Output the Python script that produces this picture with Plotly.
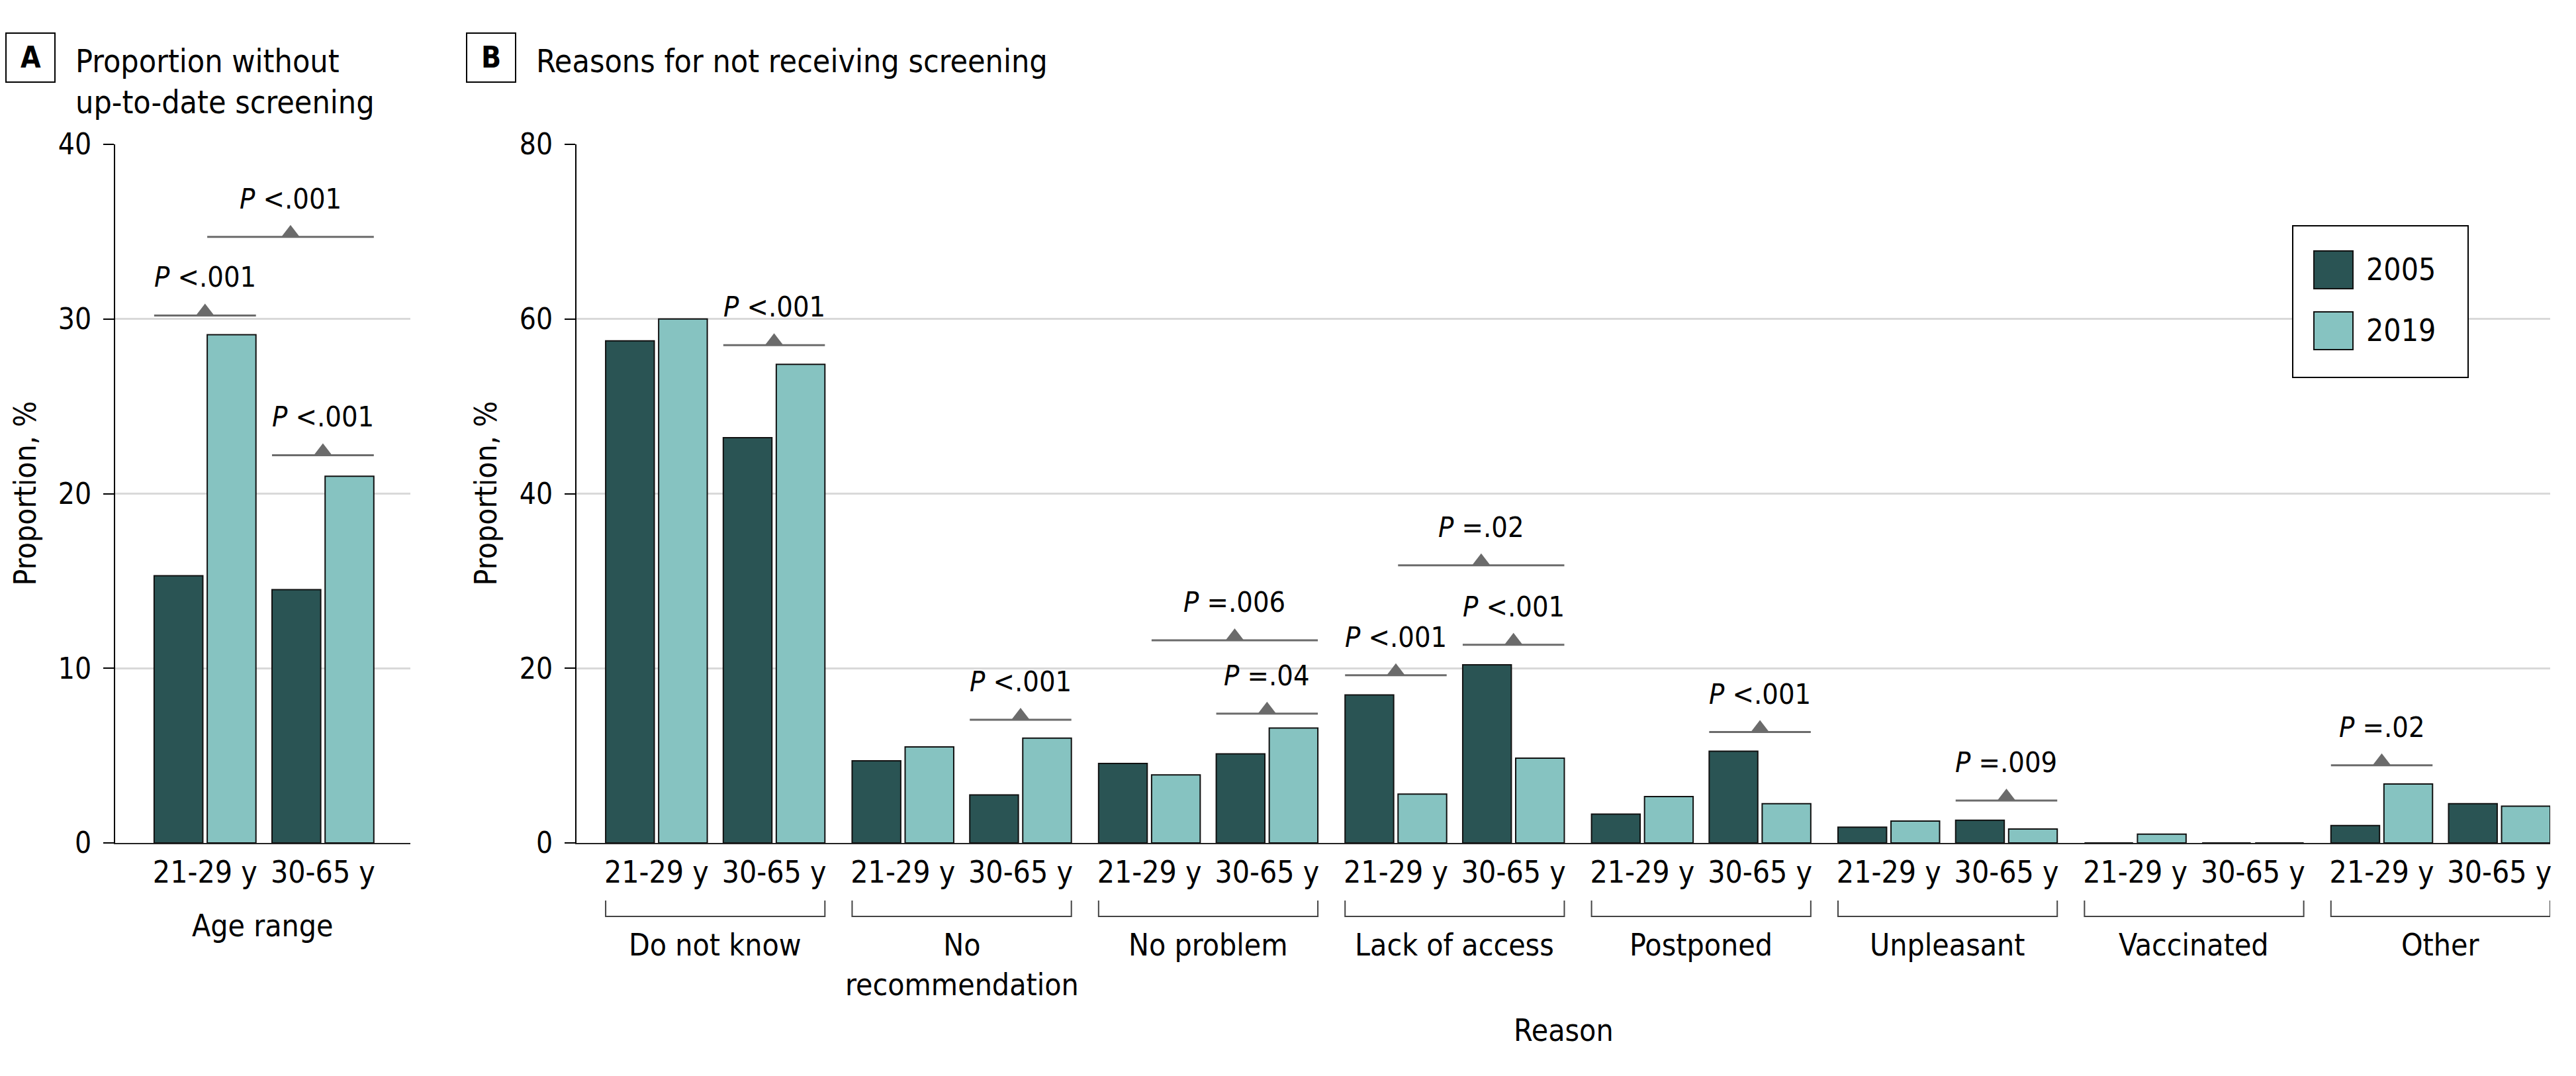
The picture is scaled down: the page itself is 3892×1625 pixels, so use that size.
import plotly.graph_objects as go

# ---------------------------
# Data
# ---------------------------
years = ["2005", "2019"]
age_groups = ["21-29 y", "30-65 y"]

# Panel A: proportion without up-to-date screening
a_2005 = [15.3, 14.5]
a_2019 = [29.1, 21.0]

# Panel B: reasons for not receiving screening
reasons = ["Do not know", "No<br>recommendation", "No problem", "Lack of access",
           "Postponed", "Unpleasant", "Vaccinated", "Other"]
b_2005_young = [57.5, 9.4, 9.1, 16.95, 3.3, 1.8, 0.0, 2.0]
b_2019_young = [60.0, 11.0, 7.8, 5.6, 5.3, 2.5, 1.0, 6.75]
b_2005_old = [46.4, 5.5, 10.2, 20.4, 10.5, 2.6, 0.0, 4.5]
b_2019_old = [54.8, 12.0, 13.15, 9.7, 4.5, 1.6, 0.0, 4.2]

# P value brackets: (reason index, comparison, line level, label)
a_pvals = [("young", 30.2, "<.001"), ("old", 22.2, "<.001"), ("cross", 34.7, "<.001")]
b_pvals = [
    (0, "old", 57.0, "<.001"),
    (1, "old", 14.1, "<.001"),
    (2, "old", 14.8, "=.04"),
    (2, "cross", 23.2, "=.006"),
    (3, "young", 19.2, "<.001"),
    (3, "old", 22.7, "<.001"),
    (3, "cross", 31.8, "=.02"),
    (4, "old", 12.7, "<.001"),
    (5, "old", 4.85, "=.009"),
    (7, "young", 8.9, "=.02"),
]

# ---------------------------
# Style / layout constants
# ---------------------------
W, H = 3892, 1625
PAGE_PAD = 8  # default body margin of the html page
FIG_W, FIG_H = W - 2 * PAGE_PAD, H - 2 * PAGE_PAD
FONT = "DejaVu Sans Condensed, Liberation Sans Narrow, DejaVu Sans, sans-serif"
DARK = "#2a5454"
LIGHT = "#86c3c1"
GREY = "#6b6b6b"
colors = [DARK, LIGHT]

BAR_W = 1.0
IN_GAP = 0.09
PAIR_PITCH = 2.42
REASON_PITCH = 5.07

PLOT_TOP, PLOT_BOT = 218, 1273
A_LEFT, A_RIGHT = 174, 620
B_LEFT, B_RIGHT = 871, 3853


def px(x):
    return (x - PAGE_PAD) / FIG_W


def py(y):
    return 1 - (y - PAGE_PAD) / FIG_H


def text_font(size):
    return dict(size=size, family=FONT, color="black")


a_range = [-(BAR_W + IN_GAP / 2) - 0.8, PAIR_PITCH + BAR_W + IN_GAP / 2 + 0.75]
b_range = [-(BAR_W + IN_GAP / 2) - 0.6, 7 * REASON_PITCH + PAIR_PITCH + BAR_W + IN_GAP / 2]

a_centers = [i * PAIR_PITCH for i in range(len(age_groups))]
b_young = [r * REASON_PITCH for r in range(len(reasons))]
b_old = [r * REASON_PITCH + PAIR_PITCH for r in range(len(reasons))]

fig = go.Figure()

offsets = [-(BAR_W + IN_GAP / 2), IN_GAP / 2]
bar_line = dict(color="#111111", width=2)

# Panel A bars
for k, vals in enumerate([a_2005, a_2019]):
    fig.add_trace(go.Bar(x=a_centers, y=vals, width=BAR_W, offset=offsets[k],
                         marker=dict(color=colors[k], line=bar_line),
                         name=years[k], showlegend=False, xaxis="x", yaxis="y"))

# Panel B bars
for k, (yv, ov) in enumerate([(b_2005_young, b_2005_old), (b_2019_young, b_2019_old)]):
    fig.add_trace(go.Bar(x=b_young + b_old, y=yv + ov, width=BAR_W, offset=offsets[k],
                         marker=dict(color=colors[k], line=bar_line),
                         name=years[k], showlegend=False, xaxis="x2", yaxis="y2"))

shapes = []
annotations = []


def pval_bracket(xref, yref, c_young, c_old, kind, level, label, px_per_unit):
    if kind == "young":
        x0, x1 = c_young - BAR_W - IN_GAP / 2, c_young + BAR_W + IN_GAP / 2
    elif kind == "old":
        x0, x1 = c_old - BAR_W - IN_GAP / 2, c_old + BAR_W + IN_GAP / 2
    else:
        x0, x1 = c_young + IN_GAP / 2, c_old + BAR_W + IN_GAP / 2
    xm = (x0 + x1) / 2
    shapes.append(dict(type="line", xref=xref, yref=yref, x0=x0, x1=x1, y0=level, y1=level,
                       line=dict(color=GREY, width=3)))
    fig.add_trace(go.Scatter(x=[xm], y=[level + 6.0 / px_per_unit], mode="markers",
                             marker=dict(symbol="triangle-up", size=24, color=GREY),
                             showlegend=False, hoverinfo="skip",
                             xaxis=xref, yaxis=yref))
    annotations.append(dict(xref=xref, yref=yref, x=xm, y=level, yshift=58,
                            xanchor="center", yanchor="middle",
                            text="<i>P</i> " + label, showarrow=False,
                            font=text_font(43)))


a_ppu = (PLOT_BOT - PLOT_TOP) / 40
b_ppu = (PLOT_BOT - PLOT_TOP) / 80
for kind, level, label in a_pvals:
    pval_bracket("x", "y", a_centers[0], a_centers[1], kind, level, label, a_ppu)
for r, kind, level, label in b_pvals:
    pval_bracket("x2", "y2", b_young[r], b_old[r], kind, level, label, b_ppu)

# Reason group brackets and labels
for r, name in enumerate(reasons):
    x0 = b_young[r] - BAR_W - IN_GAP / 2
    x1 = b_old[r] + BAR_W + IN_GAP / 2
    shapes.append(dict(type="path", xref="x2", yref="paper",
                       path=f"M {x0},{py(1360)} L {x0},{py(1384)} L {x1},{py(1384)} L {x1},{py(1360)}",
                       line=dict(color="#444444", width=2)))
    annotations.append(dict(xref="x2", yref="paper", x=(x0 + x1) / 2, y=py(1398),
                            xanchor="center", yanchor="top", text=name, showarrow=False,
                            font=text_font(46)))

# Axis titles
mid_y = py((PLOT_TOP + PLOT_BOT) / 2)
annotations += [
    dict(xref="paper", yref="paper", x=px(37), y=mid_y, xanchor="center", yanchor="middle",
         text="Proportion, %", textangle=-90, showarrow=False, font=text_font(46)),
    dict(xref="paper", yref="paper", x=px(733), y=mid_y, xanchor="center", yanchor="middle",
         text="Proportion, %", textangle=-90, showarrow=False, font=text_font(46)),
    dict(xref="paper", yref="paper", x=px((A_LEFT + A_RIGHT) / 2), y=py(1398),
         xanchor="center", yanchor="middle",
         text="Age range", showarrow=False, font=text_font(46)),
    dict(xref="paper", yref="paper", x=px((B_LEFT + B_RIGHT) / 2), y=py(1556),
         xanchor="center", yanchor="middle",
         text="Reason", showarrow=False, font=text_font(46)),
]

# Panel titles with boxed letters
for letter, bx, title, tx in [("A", 9, "Proportion without<br>up-to-date screening", 112),
                              ("B", 705, "Reasons for not receiving screening", 808)]:
    shapes.append(dict(type="rect", xref="paper", yref="paper",
                       x0=px(bx), x1=px(bx + 74), y0=py(50), y1=py(124),
                       line=dict(color="black", width=2)))
    annotations.append(dict(xref="paper", yref="paper", x=px(bx + 37), y=py(87),
                            xanchor="center", yanchor="middle",
                            text=f"<b>{letter}</b>", showarrow=False, font=text_font(44)))
    annotations.append(dict(xref="paper", yref="paper", x=px(tx), y=py(62),
                            xanchor="left", yanchor="top", align="left", text=title,
                            showarrow=False, font=text_font(48)))

# Legend (drawn by hand so the swatches match the original size)
shapes.append(dict(type="rect", xref="paper", yref="paper", x0=px(3464), x1=px(3729),
                   y0=py(341), y1=py(570), line=dict(color="black", width=2),
                   fillcolor="white", layer="above"))
for k, yr in enumerate(years):
    top = 379 + k * 92
    shapes.append(dict(type="rect", xref="paper", yref="paper", x0=px(3496), x1=px(3555),
                       y0=py(top), y1=py(top + 57), fillcolor=colors[k],
                       line=dict(color="#111111", width=2), layer="above"))
    annotations.append(dict(xref="paper", yref="paper", x=px(3573), y=py(top + 28),
                            xanchor="left", yanchor="middle", text=yr, showarrow=False,
                            font=text_font(46)))

axis_common = dict(showgrid=False, zeroline=False, showline=True, linecolor="#222222",
                   linewidth=2, ticks="", ticklabelstandoff=3, automargin=False,
                   tickfont=text_font(46))
yaxis_common = dict(showgrid=True, gridcolor="#d9d9d9", gridwidth=3, zeroline=False,
                    showline=True, linecolor="black", linewidth=2, ticks="outside",
                    ticklen=16, tickwidth=2, tickcolor="black", ticklabelstandoff=9,
                    automargin=False, tickfont=text_font(44))

fig.update_layout(
    width=FIG_W, height=FIG_H,
    margin=dict(l=0, r=0, t=0, b=0, autoexpand=False),
    plot_bgcolor="white", paper_bgcolor="white",
    barmode="overlay",
    showlegend=False,
    font=dict(family=FONT, color="black"),
    xaxis=dict(domain=[px(A_LEFT), px(A_RIGHT)], range=a_range,
               tickvals=a_centers, ticktext=age_groups, anchor="y", **axis_common),
    yaxis=dict(domain=[py(PLOT_BOT), py(PLOT_TOP)], range=[0, 40], dtick=10,
               anchor="x", **yaxis_common),
    xaxis2=dict(domain=[px(B_LEFT), px(B_RIGHT)], range=b_range,
                tickvals=b_young + b_old,
                ticktext=[age_groups[0]] * len(reasons) + [age_groups[1]] * len(reasons),
                anchor="y2", **axis_common),
    yaxis2=dict(domain=[py(PLOT_BOT), py(PLOT_TOP)], range=[0, 80], dtick=20,
                anchor="x2", **yaxis_common),
    shapes=shapes,
    annotations=annotations,
)

fig.write_html("out.html")
